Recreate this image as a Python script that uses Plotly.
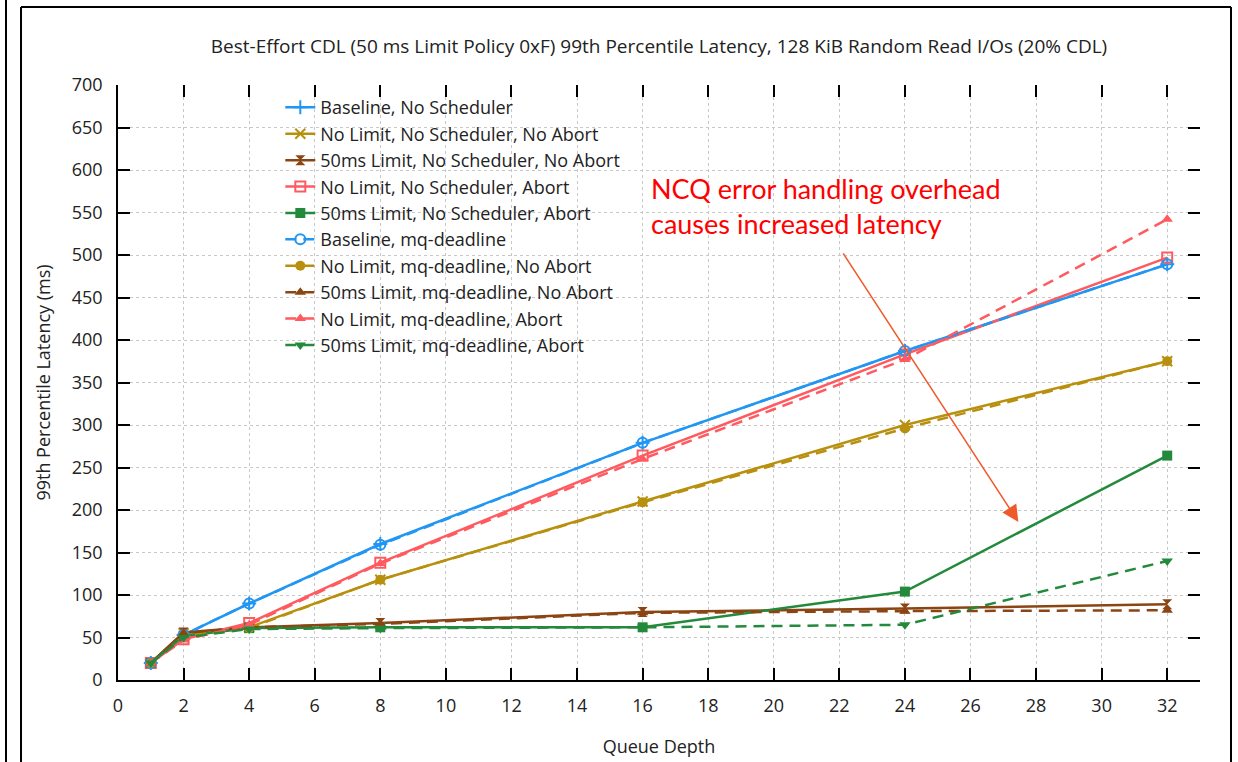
import plotly.graph_objects as go

queue_depth = [1, 2, 4, 8, 16, 24, 32]

baseline_nosched = [20, 53, 90, 160, 279, 387, 489]
nolimit_nosched_noabort = [20, 55, 62, 118, 210, 300, 375]
lim50_nosched_noabort = [20, 56, 62, 67, 80, 84, 89]
nolimit_nosched_abort = [20, 48, 67, 138, 264, 383, 497]
lim50_nosched_abort = [20, 52, 61, 62, 62, 104, 264]
baseline_mq = [20, 53, 90, 159, 279, 387, 489]
nolimit_mq_noabort = [20, 52, 61, 118, 209, 296, 375]
lim50_mq_noabort = [20, 55, 62, 66, 79, 81, 82]
nolimit_mq_abort = [20, 47, 65, 137, 260, 377, 542]
lim50_mq_abort = [20, 50, 60, 61, 62, 65, 140]

series_names = [
    "Baseline, No Scheduler",
    "No Limit, No Scheduler, No Abort",
    "50ms Limit, No Scheduler, No Abort",
    "No Limit, No Scheduler, Abort",
    "50ms Limit, No Scheduler, Abort",
    "Baseline, mq-deadline",
    "No Limit, mq-deadline, No Abort",
    "50ms Limit, mq-deadline, No Abort",
    "No Limit, mq-deadline, Abort",
    "50ms Limit, mq-deadline, Abort",
]
series_values = [
    baseline_nosched, nolimit_nosched_noabort, lim50_nosched_noabort,
    nolimit_nosched_abort, lim50_nosched_abort, baseline_mq,
    nolimit_mq_noabort, lim50_mq_noabort, nolimit_mq_abort, lim50_mq_abort,
]

BLUE = "#2196f3"
GOLD = "#b8900e"
BROWN = "#8b4513"
RED = "#ff5a5f"
GREEN = "#238a3c"

styles = [
    (BLUE, "solid", "cross-thin"),
    (GOLD, "solid", "x-thin"),
    (BROWN, "solid", "hourglass"),
    (RED, "solid", "square-open"),
    (GREEN, "solid", "square"),
    (BLUE, "11px,7px", "circle-open"),
    (GOLD, "11px,7px", "circle"),
    (BROWN, "11px,7px", "triangle-up"),
    (RED, "11px,7px", "triangle-up"),
    (GREEN, "11px,7px", "triangle-down"),
]

x_ticks = list(range(0, 33, 2))
y_ticks = list(range(0, 701, 50))

FONT = "Open Sans"

fig = go.Figure()
for name, vals, (col, dash, sym) in zip(series_names, series_values, styles):
    thin = sym.endswith("-thin") or sym.endswith("-open")
    fig.add_trace(go.Scatter(
        x=queue_depth, y=vals, name=name, mode="lines+markers",
        line=dict(color=col, width=2.5, dash=dash),
        marker=dict(symbol=sym, size=10, color=col,
                    line=dict(color=col, width=2 if thin else 0)),
    ))

# invisible trace for mirrored tick axes
fig.add_trace(go.Scatter(x=[None], y=[None], xaxis="x2", yaxis="y2",
                         showlegend=False, hoverinfo="skip"))

axis_common = dict(ticks="inside", ticklen=12, tickwidth=1.5, tickcolor="black",
                   zeroline=False, automargin=False)

fig.update_layout(
    width=1238, height=762,
    margin=dict(l=118, r=38, t=85, b=82),
    paper_bgcolor="white", plot_bgcolor="white",
    font=dict(family=FONT, size=18, color="#222"),
    title=dict(text="Best-Effort CDL (50 ms Limit Policy 0xF) 99th Percentile Latency, 128 KiB Random Read I/Os (20% CDL)",
               x=0.5, xanchor="center", y=1 - 46 / 762, yanchor="middle",
               xref="paper", font=dict(size=19, family=FONT, color="#222")),
    xaxis=dict(range=[0, 33], tickvals=x_ticks, showgrid=True, gridcolor="#c8c8c8",
               griddash="dot", gridwidth=1, showline=True, linecolor="black",
               linewidth=1.5, ticklabelstandoff=9,
               title=dict(text="Queue Depth", font=dict(size=18), standoff=24),
               **axis_common),
    yaxis=dict(range=[0, 700], tickvals=y_ticks, showgrid=True, gridcolor="#c8c8c8",
               griddash="dot", gridwidth=1, showline=True, linecolor="black",
               linewidth=1.5, ticklabelstandoff=10,
               title=dict(text="99th Percentile Latency (ms)", font=dict(size=18), standoff=16),
               **axis_common),
    xaxis2=dict(overlaying="x", side="top", anchor="y", matches="x", tickvals=x_ticks,
                showticklabels=False, showgrid=False, showline=False, **axis_common),
    yaxis2=dict(overlaying="y", side="right", anchor="x", matches="y", tickvals=y_ticks,
                showticklabels=False, showgrid=False, showline=False, **axis_common),
    legend=dict(x=0.15, y=0.993, xanchor="left", yanchor="top",
                bgcolor="rgba(255,255,255,0)", font=dict(size=18, family=FONT)),
    showlegend=True,
)

# callout
fig.add_annotation(x=16.2, y=600, xref="x", yref="y", xanchor="left", yanchor="top",
                   text="NCQ error handling overhead<br>causes increased latency",
                   showarrow=False, align="left",
                   font=dict(family="Lato", size=27, color="#ff0000"))
fig.add_annotation(x=27.46, y=186, ax=22.09, ay=503.5, xref="x", yref="y",
                   axref="x", ayref="y", text="", showarrow=True,
                   arrowhead=2, arrowsize=2.2, arrowwidth=1.5, arrowcolor="#ee5a2a")

# slide frame decoration
frame = dict(type="line", xref="paper", yref="paper", line=dict(color="black", width=2))
def px_x(p):
    return (p - 118) / (1238 - 118 - 38)
def px_y(p):
    return (762 - 82 - p) / (762 - 85 - 82)
fig.add_shape(x0=px_x(6), x1=px_x(6), y0=px_y(0), y1=px_y(762), **frame)
fig.add_shape(x0=px_x(21), x1=px_x(21), y0=px_y(7), y1=px_y(762), **frame)
fig.add_shape(x0=px_x(21), x1=px_x(1231), y0=px_y(7), y1=px_y(7), **frame)
fig.add_shape(x0=px_x(1231), x1=px_x(1231), y0=px_y(7), y1=px_y(762), **frame)

fig.write_html("out.html")
